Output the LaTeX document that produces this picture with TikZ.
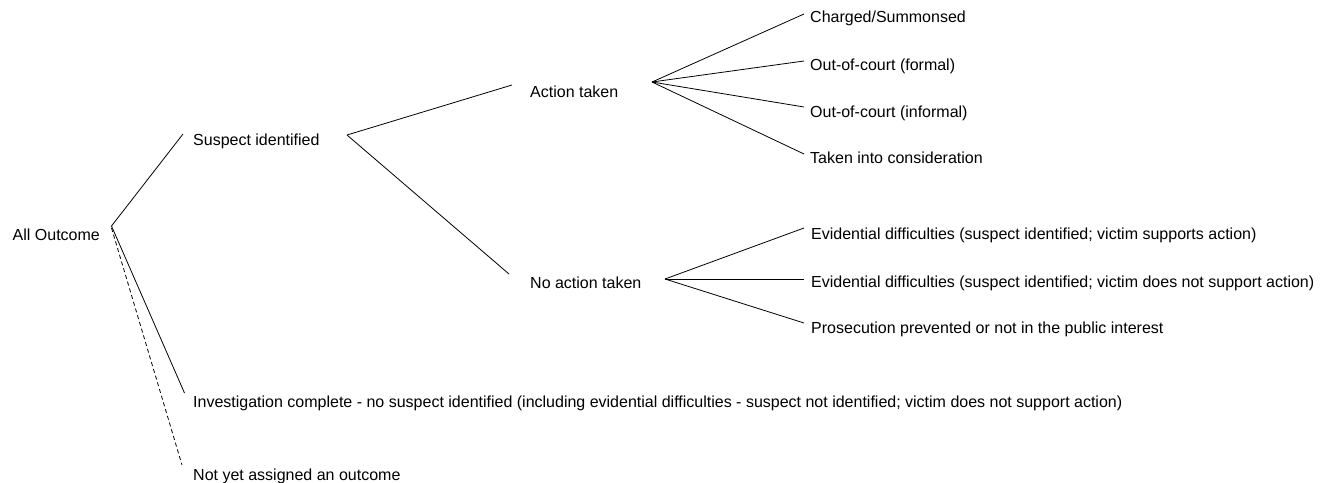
\documentclass[tikz,border=0pt]{standalone}
\usepackage{fontspec}
\setmainfont{Liberation Sans}
\tikzset{
  lab/.style={anchor=base west,inner sep=0pt,font=\fontsize{16}{19.2}\selectfont},
  branch/.style={line width=0.8pt},
  pending/.style={line width=0.8pt,dash pattern=on 4pt off 3pt}
}
\begin{document}
\begin{tikzpicture}[x=1pt,y=-1pt]
    \useasboundingbox (0,0) rectangle (1329,482);
    % 根节点
    \node[lab] (all) at (12.5,240) {All Outcome};
    \coordinate (allj) at (111.5,226);
    % 第一层
    \node[lab] (susp) at (193,145) {Suspect identified};
    \node[lab] (inv) at (193,407) {Investigation complete - no suspect identified (including evidential difficulties - suspect not identified; victim does not support action)};
    \node[lab] (nya) at (193,480) {Not yet assigned an outcome};
    \coordinate (suspj) at (347,135);
    % 第二层
    \node[lab] (act) at (530,97) {Action taken};
    \node[lab] (noact) at (530,288) {No action taken};
    \coordinate (actj) at (652,82);
    \coordinate (noactj) at (665,279);
    % 第三层: action taken
    \node[lab] (chg) at (810,22) {Charged/Summonsed};
    \node[lab] (ocf) at (810,70) {Out-of-court (formal)};
    \node[lab] (oci) at (810,117) {Out-of-court (informal)};
    \node[lab] (tic) at (810,163) {Taken into consideration};
    % 第三层: no action taken
    \node[lab] (ev1) at (811,239) {Evidential difficulties (suspect identified; victim supports action)};
    \node[lab] (ev2) at (811,287) {Evidential difficulties (suspect identified; victim does not support action)};
    \node[lab] (pros) at (811,333) {Prosecution prevented or not in the public interest};
    % 连线
    \draw[branch] (allj) -- ([xshift=-10pt,yshift=11pt]susp.base west);
    \draw[branch] (allj) -- ([xshift=-8.5pt,yshift=14pt]inv.base west);
    \draw[pending] ([yshift=-2pt]allj) -- ([xshift=-11pt,yshift=15pt]nya.base west);
    \draw[branch] (suspj) -- ([xshift=-18pt,yshift=12pt]act.base west);
    \draw[branch] (suspj) -- ([xshift=-21pt,yshift=14pt]noact.base west);
    \draw[branch] (actj) -- ([xshift=-6pt,yshift=8pt]chg.base west);
    \draw[branch] (actj) -- ([xshift=-6pt,yshift=9pt]ocf.base west);
    \draw[branch] (actj) -- ([xshift=-6pt,yshift=10pt]oci.base west);
    \draw[branch] (actj) -- ([xshift=-6pt,yshift=9pt]tic.base west);
    \draw[branch] (noactj) -- ([xshift=-7pt,yshift=11pt]ev1.base west);
    \draw[branch] (noactj) -- ([xshift=-7pt,yshift=8pt]ev2.base west);
    \draw[branch] (noactj) -- ([xshift=-7pt,yshift=10pt]pros.base west);
\end{tikzpicture}
\end{document}
